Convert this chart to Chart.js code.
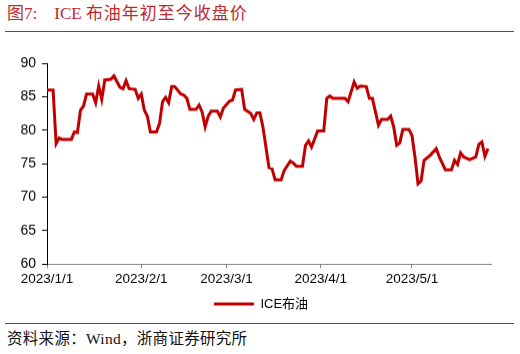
<!DOCTYPE html>
<html><head><meta charset="utf-8">
<script src="https://cdn.jsdelivr.net/npm/chart.js@4/dist/chart.umd.min.js"></script>
<style>
html,body{margin:0;padding:0;background:#fff;}
body{width:520px;height:354px;position:relative;overflow:hidden;}
#title{position:absolute;left:7px;top:4px;font-family:"Liberation Serif","Noto Sans CJK SC",serif;font-size:17px;line-height:20px;color:#c0282d;white-space:nowrap;}
#title .gap{display:inline-block;width:17px;}
#title .cn{letter-spacing:1px;}
#rule1{position:absolute;left:5px;top:31px;width:509px;height:1px;background:#c0282d;}
#rule2{position:absolute;left:5px;top:323px;width:509px;height:1px;background:#c0282d;}
#src{position:absolute;left:7px;top:329px;font-family:"Liberation Serif","Noto Sans CJK SC",serif;font-size:15.5px;line-height:20px;color:#111;white-space:nowrap;letter-spacing:0.3px;}
#wrap{position:absolute;left:0;top:0;width:520px;height:319.5px;}
</style>
</head><body>
<div id="title">图7:<span class="gap"></span>ICE <span class="cn">布油年初至今收盘价</span></div>
<div id="rule1"></div>
<div id="wrap"><canvas id="c"></canvas></div>
<div id="rule2"></div>
<div id="src">资料来源：Wind，浙商证券研究所</div>
<script>
const seriesName = 'ICE布油';
const dates = [
'2023-01-01','2023-01-03','2023-01-04','2023-01-05','2023-01-06','2023-01-09','2023-01-10','2023-01-11','2023-01-12','2023-01-13',
'2023-01-14','2023-01-16','2023-01-17','2023-01-18','2023-01-19','2023-01-20','2023-01-22','2023-01-23','2023-01-25','2023-01-26',
'2023-01-27','2023-01-28','2023-01-30','2023-01-31','2023-02-01','2023-02-02','2023-02-03','2023-02-04','2023-02-06','2023-02-07',
'2023-02-08','2023-02-09','2023-02-10','2023-02-11','2023-02-12','2023-02-14','2023-02-15','2023-02-16','2023-02-17','2023-02-19',
'2023-02-20','2023-02-21','2023-02-22','2023-02-23','2023-02-24','2023-02-26','2023-02-27','2023-02-28','2023-03-02','2023-03-03',
'2023-03-04','2023-03-06','2023-03-07','2023-03-09','2023-03-10','2023-03-11','2023-03-12','2023-03-13','2023-03-15','2023-03-16',
'2023-03-17','2023-03-19','2023-03-20','2023-03-22','2023-03-23','2023-03-24','2023-03-26','2023-03-27','2023-03-28','2023-03-29',
'2023-03-31','2023-04-02','2023-04-03','2023-04-04','2023-04-05','2023-04-09','2023-04-10','2023-04-12','2023-04-13','2023-04-14',
'2023-04-16','2023-04-17','2023-04-18','2023-04-20','2023-04-21','2023-04-23','2023-04-24','2023-04-25','2023-04-26','2023-04-27',
'2023-04-28','2023-04-30','2023-05-01','2023-05-02','2023-05-03','2023-05-04','2023-05-05','2023-05-07','2023-05-09','2023-05-10',
'2023-05-12','2023-05-14','2023-05-15','2023-05-16','2023-05-17','2023-05-18','2023-05-20','2023-05-22','2023-05-23','2023-05-24',
'2023-05-25','2023-05-26'
];
const brent = [
86.0,86.0,78.0,78.85,78.6,78.6,79.75,79.65,83.0,83.6,
85.4,85.4,84.1,86.6,84.6,87.5,87.6,88.1,86.4,86.2,
87.4,86.2,86.1,84.75,85.4,83.0,82.1,79.75,79.75,81.0,
84.25,84.9,84.1,86.5,86.5,85.4,85.25,84.75,83.1,83.1,
83.75,82.75,80.5,82.1,82.85,82.85,82.0,83.3,84.35,84.5,
86.0,86.1,83.1,82.5,81.6,82.6,82.6,80.5,74.4,74.25,
72.6,72.6,74.0,75.4,75.1,74.6,74.6,77.75,78.4,77.5,
79.9,79.9,84.75,85.1,84.75,84.75,84.25,87.2,86.25,86.6,
86.5,84.75,84.75,80.75,81.6,81.6,82.1,80.5,77.75,78.1,
80.1,80.1,79.25,76.0,72.0,72.4,75.5,76.25,77.25,76.0,
74.1,74.1,75.5,74.9,76.6,76.0,75.6,76.0,77.9,78.25,
76.1,77.25
];
const xTickDates = ['2023-01-01','2023-02-01','2023-03-01','2023-04-01','2023-05-01'];
const xTickLabels = ['2023/1/1','2023/2/1','2023/3/1','2023/4/1','2023/5/1'];
const xRange = ['2023-01-01','2023-05-27'];
const yTicks = [60,65,70,75,80,85,90];

const dayOf = s => Math.round((Date.UTC(+s.slice(0,4), +s.slice(5,7)-1, +s.slice(8,10)) - Date.UTC(2023,0,1))/86400000);
const points = dates.map((d,i)=>({x: dayOf(d), y: brent[i]}));
const red = '#c00000';

const legendShift = {
  id: 'legendShift',
  afterLayout(chart) { const l = chart.legend; if (l) { l.left += 15.5; l.right += 15.5; } }
};

new Chart(document.getElementById('c'), {
  type: 'line',
  data: { datasets: [{
    label: seriesName, data: points,
    borderColor: red, backgroundColor: red, borderWidth: 3,
    pointRadius: 0, tension: 0, fill: false
  }]},
  plugins: [legendShift],
  options: {
    responsive: true, maintainAspectRatio: false, animation: false,
    layout: { padding: { left: 0, right: 29, top: 63, bottom: 0 } },
    plugins: {
      tooltip: { enabled: false },
      legend: {
        position: 'bottom',
        labels: {
          boxWidth: 40, boxHeight: 3, padding: 7, color: '#000',
          font: { size: 13, family: '"Liberation Sans","Noto Sans CJK SC",sans-serif' },
          generateLabels: (chart) => Chart.defaults.plugins.legend.labels.generateLabels(chart).map(it => ({...it, lineWidth: 0}))
        }
      }
    },
    scales: {
      x: {
        type: 'linear', min: dayOf(xRange[0]), max: dayOf(xRange[1]),
        afterBuildTicks: (s) => { s.ticks = xTickDates.map(d => ({value: dayOf(d)})); },
        ticks: {
          autoSkip: false, maxRotation: 0, padding: 3, color: '#000',
          font: { size: 13.5, family: '"Liberation Sans",Arial,sans-serif' },
          callback: (v) => { const i = xTickDates.findIndex(d => dayOf(d) === v); return i >= 0 ? xTickLabels[i] : ''; }
        },
        grid: { drawOnChartArea: false, drawTicks: true, tickLength: 4, color: '#808080' },
        border: { display: true, color: '#808080', width: 1 }
      },
      y: {
        min: 60, max: 90,
        afterBuildTicks: (s) => { s.ticks = yTicks.map(v => ({value: v})); },
        afterFit: (s) => { s.width = 47; },
        ticks: {
          padding: 6, color: '#000',
          font: { size: 14, family: '"Liberation Sans",Arial,sans-serif' }
        },
        grid: { drawOnChartArea: false, drawTicks: true, tickLength: 5, color: '#000' },
        border: { display: true, color: '#000', width: 1 }
      }
    }
  }
});
</script>
</body></html>
